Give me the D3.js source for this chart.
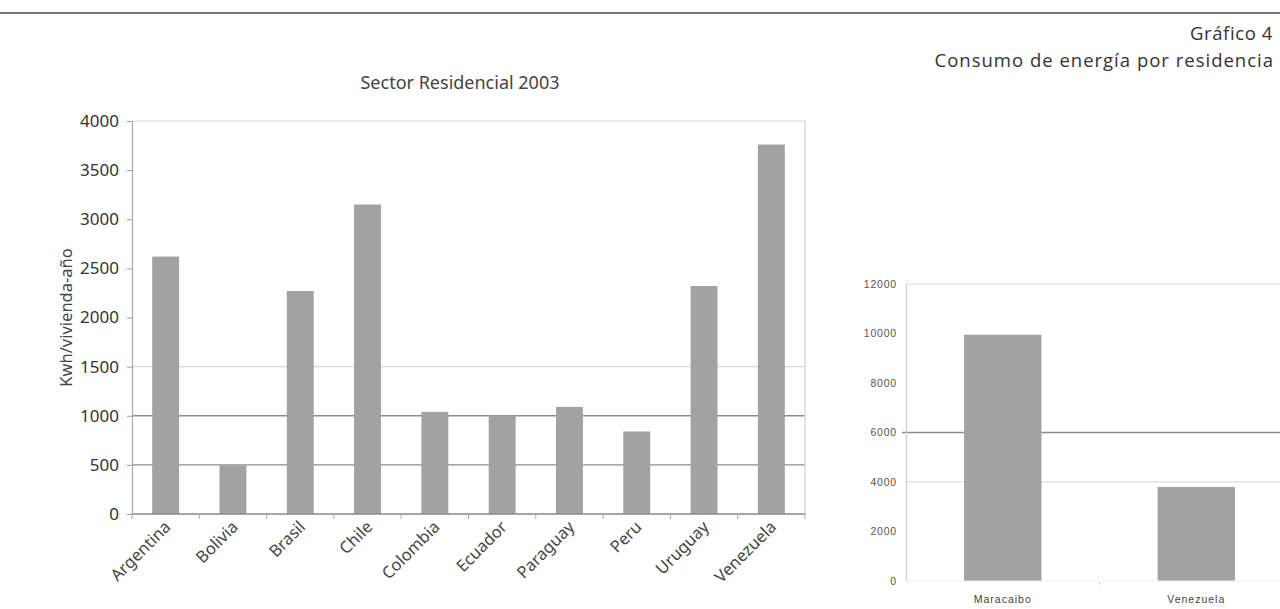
<!DOCTYPE html>
<html>
<head>
<meta charset="utf-8">
<script src="https://cdn.jsdelivr.net/npm/d3@7"></script>
<style>
  html, body { margin: 0; padding: 0; background: #fff; }
  svg { display: block; }
</style>
</head>
<body>
<svg id="chart" width="1280" height="609"></svg>
<script>
// ---- Data ----
const countries = ["Argentina", "Bolivia", "Brasil", "Chile", "Colombia", "Ecuador", "Paraguay", "Peru", "Uruguay", "Venezuela"];
const residential2003 = [2620, 495, 2270, 3150, 1040, 1005, 1090, 840, 2320, 3760];
const leftTicks = [0, 500, 1000, 1500, 2000, 2500, 3000, 3500, 4000];
const leftGridDark = [500, 1000];
const leftGridLight = [1500, 4000];

const cities = ["Maracaibo", "Venezuela"];
const cityValues = [9950, 3800];
const rightTicks = [0, 2000, 4000, 6000, 8000, 10000, 12000];
const rightGridDark = [6000];
const rightGridLight = [4000, 12000];

const headerTitle = "Gráfico 4";
const headerSubtitle = "Consumo de energía por residencia";
const leftTitle = "Sector Residencial 2003";
const leftYLabel = "Kwh/vivienda-año";

// ---- Drawing ----
const svg = d3.select("#chart");
svg.append("rect").attr("width", 1280).attr("height", 609).attr("fill", "#fff");

// Header
svg.append("line").attr("x1", 0).attr("x2", 1280).attr("y1", 13).attr("y2", 13)
  .attr("stroke", "#7a7a7a").attr("stroke-width", 2);
svg.append("text").attr("x", 1273).attr("y", 40).attr("text-anchor", "end")
  .attr("font-family", "Open Sans, Noto Sans, sans-serif").attr("font-size", 18.5)
  .attr("letter-spacing", 0.6).attr("fill", "#333").text(headerTitle);
svg.append("text").attr("x", 1274).attr("y", 67).attr("text-anchor", "end")
  .attr("font-family", "Open Sans, Noto Sans, sans-serif").attr("font-size", 18.5)
  .attr("letter-spacing", 1).attr("fill", "#333").text(headerSubtitle);

// ---- Left chart ----
const L = { left: 132, right: 805, top: 121, bottom: 514 };
const x = d3.scaleBand().domain(countries).range([L.left, L.right]).paddingInner(0.6).paddingOuter(0.3);
const y = d3.scaleLinear().domain([0, 4000]).range([L.bottom, L.top]);
const gL = svg.append("g");

gL.append("text").attr("x", 460).attr("y", 89).attr("text-anchor", "middle")
  .attr("font-family", "Noto Sans, sans-serif").attr("font-size", 18)
  .attr("fill", "#444").text(leftTitle);

// grid
gL.selectAll(".gl").data(leftGridLight).join("line")
  .attr("x1", L.left).attr("x2", L.right).attr("y1", d => y(d)).attr("y2", d => y(d))
  .attr("stroke", "#d8d8d8").attr("stroke-width", 1.2);
gL.selectAll(".gd").data(leftGridDark).join("line")
  .attr("x1", L.left).attr("x2", L.right).attr("y1", d => y(d)).attr("y2", d => y(d))
  .attr("stroke", "#8c8c8c").attr("stroke-width", 1.4);
// right border
gL.append("line").attr("x1", L.right).attr("x2", L.right).attr("y1", L.top).attr("y2", L.bottom)
  .attr("stroke", "#d0d0d0").attr("stroke-width", 1.2);

// bars
gL.selectAll(".bar").data(countries).join("rect")
  .attr("x", d => x(d)).attr("width", x.bandwidth())
  .attr("y", (d, i) => y(residential2003[i]))
  .attr("height", (d, i) => y(0) - y(residential2003[i]))
  .attr("fill", "#a2a2a2");

// y axis
const yAxis = d3.axisLeft(y).tickValues(leftTicks).tickFormat(d3.format("d")).tickSize(5).tickPadding(8);
const ya = gL.append("g").attr("transform", `translate(${L.left},0)`).call(yAxis);
ya.select(".domain").attr("stroke", "#a8a8a8").attr("stroke-width", 1.2);
ya.selectAll(".tick line").attr("stroke", "#9a9a9a");
ya.selectAll(".tick text").attr("font-family", "Noto Sans, sans-serif").attr("font-size", 17)
  .attr("fill", "#333");

// bottom axis
const bounds = d3.range(countries.length + 1).map(i => L.left + i * x.step());
gL.append("line").attr("x1", L.left).attr("x2", L.right).attr("y1", L.bottom).attr("y2", L.bottom)
  .attr("stroke", "#888").attr("stroke-width", 1.5);
gL.selectAll(".xt").data(bounds).join("line")
  .attr("x1", d => d).attr("x2", d => d).attr("y1", L.bottom).attr("y2", L.bottom + 5)
  .attr("stroke", "#aaa");
gL.selectAll(".xl").data(countries).join("text")
  .attr("text-anchor", "end")
  .attr("transform", d => `translate(${x(d) + x.bandwidth() / 2 + 6},${L.bottom + 14}) rotate(-45)`)
  .attr("font-family", "Noto Sans, sans-serif").attr("font-size", 16.5).attr("fill", "#444")
  .text(d => d);

// y label
gL.append("text").attr("transform", `translate(72,${(L.top + L.bottom) / 2}) rotate(-90)`)
  .attr("text-anchor", "middle").attr("font-family", "Noto Sans, sans-serif")
  .attr("font-size", 16.5).attr("fill", "#444").text(leftYLabel);

// ---- Right chart ----
const R = { left: 906, right: 1293, top: 284, bottom: 581 };
const x2 = d3.scaleBand().domain(cities).range([R.left, R.right]).paddingInner(0.6).paddingOuter(0.3);
const y2 = d3.scaleLinear().domain([0, 12000]).range([R.bottom, R.top]);
const gR = svg.append("g");

gR.selectAll(".gl").data(rightGridLight).join("line")
  .attr("x1", R.left).attr("x2", R.right).attr("y1", d => y2(d)).attr("y2", d => y2(d))
  .attr("stroke", "#d8d8d8").attr("stroke-width", 1.2);
gR.selectAll(".gd").data(rightGridDark).join("line")
  .attr("x1", R.left - 4).attr("x2", R.right).attr("y1", d => y2(d)).attr("y2", d => y2(d))
  .attr("stroke", "#8c8c8c").attr("stroke-width", 1.4);

gR.selectAll(".bar").data(cities).join("rect")
  .attr("x", d => x2(d)).attr("width", x2.bandwidth())
  .attr("y", (d, i) => y2(cityValues[i]))
  .attr("height", (d, i) => y2(0) - y2(cityValues[i]))
  .attr("fill", "#a2a2a2");

const yAxis2 = d3.axisLeft(y2).tickValues(rightTicks).tickFormat(d3.format("d")).tickSize(0).tickPadding(9);
const ya2 = gR.append("g").attr("transform", `translate(${R.left},0)`).call(yAxis2);
ya2.select(".domain").attr("stroke", "#d0d0d0").attr("stroke-width", 1.2);
ya2.selectAll(".tick text").attr("font-family", "Liberation Sans, sans-serif").attr("font-size", 10.5)
  .attr("letter-spacing", 0.8).attr("fill", "#555");

gR.append("line").attr("x1", R.left).attr("x2", R.right).attr("y1", R.bottom).attr("y2", R.bottom)
  .attr("stroke", "#eee").attr("stroke-width", 1);
gR.append("line").attr("x1", R.left + x2.step()).attr("x2", R.left + x2.step())
  .attr("y1", R.bottom + 1).attr("y2", R.bottom + 4).attr("stroke", "#ccc");
gR.selectAll(".xl").data(cities).join("text")
  .attr("x", d => x2(d) + x2.bandwidth() / 2).attr("y", R.bottom + 22)
  .attr("text-anchor", "middle").attr("font-family", "Liberation Sans, sans-serif")
  .attr("font-size", 10.5).attr("letter-spacing", 1).attr("fill", "#444").text(d => d);
</script>
</body>
</html>
